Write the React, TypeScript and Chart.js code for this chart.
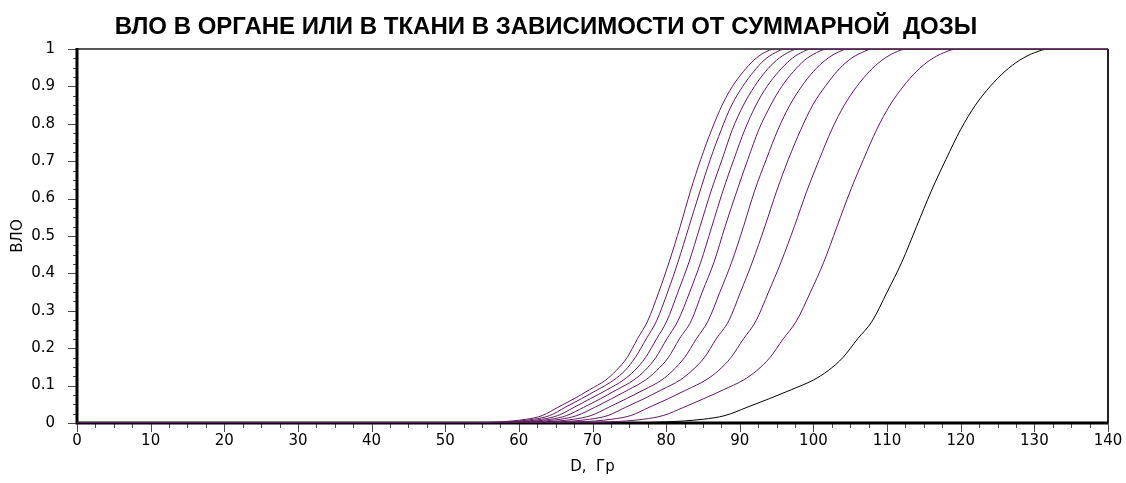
import React, { useEffect, useRef } from 'react';
import { Chart, registerables } from 'chart.js';

Chart.register(...registerables);

const CHART_TITLE = 'ВЛО В ОРГАНЕ ИЛИ В ТКАНИ В ЗАВИСИМОСТИ ОТ СУММАРНОЙ  ДОЗЫ';
const X_AXIS_TITLE = 'D,  Гр';
const Y_AXIS_TITLE = 'ВЛО';

const X_MIN = 0;
const X_MAX = 140;
const X_STEP = 10;
const X_MINOR_STEP = 2.5;
const Y_MIN = 0;
const Y_MAX = 1;
const Y_STEP = 0.1;
const Y_MINOR_STEP = 0.025;

// ВЛО levels shared by every curve
const VLO_LEVELS = [0, 0.003, 0.01, 0.02, 0.042, 0.065, 0.089, 0.115, 0.14, 0.175, 0.225, 0.273, 0.35, 0.43, 0.525, 0.62, 0.705, 0.785, 0.85, 0.9, 0.94, 0.97, 0.99, 1.0];

// Total dose (Гр) at which each curve reaches the matching ВЛО level
const DOSE_CURVE_1 = [50.3, 57.4, 61.0, 63.2, 65.3, 67.5, 69.6, 71.8, 73.2, 74.7, 76.1, 77.5, 79.0, 80.4, 81.9, 83.3, 84.7, 86.2, 87.6, 89.0, 90.5, 91.9, 93.3, 94.8];
const DOSE_CURVE_2 = [51.0, 58.3, 62.0, 64.2, 66.3, 68.5, 70.7, 72.9, 74.4, 75.8, 77.3, 78.7, 80.2, 81.6, 83.1, 84.6, 86.0, 87.5, 88.9, 90.4, 91.9, 93.3, 94.8, 96.2];
const DOSE_CURVE_3 = [51.9, 59.4, 63.1, 65.3, 67.5, 69.7, 72.0, 74.2, 75.7, 77.2, 78.7, 80.1, 81.6, 83.1, 84.6, 86.1, 87.6, 89.0, 90.5, 92.0, 93.5, 95.0, 96.5, 97.9];
const DOSE_CURVE_4 = [52.9, 60.5, 64.3, 66.5, 68.8, 71.1, 73.3, 75.6, 77.1, 78.6, 80.1, 81.6, 83.2, 84.7, 86.2, 87.7, 89.2, 90.7, 92.2, 93.7, 95.3, 96.8, 98.3, 99.8];
const DOSE_CURVE_5 = [54.0, 61.8, 65.6, 67.9, 70.3, 72.6, 74.9, 77.2, 78.7, 80.3, 81.8, 83.4, 84.9, 86.5, 88.0, 89.6, 91.1, 92.6, 94.2, 95.7, 97.3, 98.8, 100.4, 101.9];
const DOSE_CURVE_6 = [55.5, 63.5, 67.4, 69.8, 72.2, 74.6, 77.0, 79.4, 80.9, 82.5, 84.1, 85.7, 87.3, 88.9, 90.5, 92.0, 93.6, 95.2, 96.8, 98.4, 100.0, 101.6, 103.2, 104.7];
const DOSE_CURVE_7 = [57.3, 65.5, 69.6, 72.1, 74.5, 77.0, 79.4, 81.9, 83.5, 85.2, 86.8, 88.5, 90.1, 91.7, 93.4, 95.0, 96.6, 98.3, 99.9, 101.6, 103.2, 104.8, 106.5, 108.1];
const DOSE_CURVE_8 = [59.8, 68.3, 72.6, 75.2, 77.7, 80.3, 82.8, 85.4, 87.1, 88.8, 90.5, 92.2, 93.9, 95.6, 97.4, 99.1, 100.8, 102.5, 104.2, 105.9, 107.6, 109.3, 111.0, 112.7];
const DOSE_CURVE_9 = [63.4, 72.4, 76.9, 79.6, 82.4, 85.1, 87.8, 90.5, 92.3, 94.1, 95.9, 97.7, 99.6, 101.4, 103.2, 105.0, 106.8, 108.6, 110.4, 112.2, 114.0, 115.8, 117.7, 119.5];
const DOSE_CURVE_10 = [70, 80, 85, 88, 91, 94, 97, 100, 102, 104, 106, 108, 110, 112, 114, 116, 118, 120, 122, 124, 126, 128, 130, 132];

const CURVES = [
  DOSE_CURVE_1, DOSE_CURVE_2, DOSE_CURVE_3, DOSE_CURVE_4, DOSE_CURVE_5,
  DOSE_CURVE_6, DOSE_CURVE_7, DOSE_CURVE_8, DOSE_CURVE_9, DOSE_CURVE_10,
];

const PURPLE = '#5e1a60';
const CURVE_COLORS = [PURPLE, PURPLE, PURPLE, PURPLE, PURPLE, PURPLE, PURPLE, PURPLE, PURPLE, '#000000'];

const TICK_FONT = { family: '"DejaVu Sans", Arial, sans-serif', size: 15 };

// Axis frame with major and minor tick marks, drawn under the curves
const framePlugin = {
  id: 'axisFrame',
  beforeDatasetsDraw(chart: any) {
    const { ctx, chartArea, scales } = chart;
    const { left, right, top, bottom } = chartArea;
    const xs = scales.x;
    const ys = scales.y;
    ctx.save();
    ctx.strokeStyle = '#4a4a4a';
    ctx.lineWidth = 1;
    const nx = Math.round((X_MAX - X_MIN) / X_MINOR_STEP);
    for (let i = 0; i <= nx; i++) {
      const v = X_MIN + i * X_MINOR_STEP;
      const major = i % Math.round(X_STEP / X_MINOR_STEP) === 0;
      const px = Math.round(xs.getPixelForValue(v)) + 0.5;
      ctx.beginPath();
      ctx.moveTo(px, bottom);
      ctx.lineTo(px, bottom + (major ? 9 : 5));
      ctx.stroke();
    }
    const ny = Math.round((Y_MAX - Y_MIN) / Y_MINOR_STEP);
    for (let i = 0; i <= ny; i++) {
      const v = Y_MIN + i * Y_MINOR_STEP;
      const major = i % Math.round(Y_STEP / Y_MINOR_STEP) === 0;
      const py = Math.round(ys.getPixelForValue(v)) + 0.5;
      ctx.beginPath();
      ctx.moveTo(left, py);
      ctx.lineTo(left - (major ? 9 : 4), py);
      ctx.stroke();
    }
    // top and right borders
    ctx.strokeStyle = '#555555';
    ctx.lineWidth = 2;
    ctx.beginPath();
    ctx.moveTo(left, top);
    ctx.lineTo(right, top);
    ctx.stroke();
    ctx.strokeStyle = '#222222';
    ctx.beginPath();
    ctx.moveTo(right, top);
    ctx.lineTo(right, bottom);
    ctx.stroke();
    // left and bottom axes
    ctx.strokeStyle = '#000000';
    ctx.lineWidth = 3;
    ctx.beginPath();
    ctx.moveTo(left, top - 1);
    ctx.lineTo(left, bottom);
    ctx.lineTo(right, bottom);
    ctx.stroke();
    ctx.restore();
  },
};

// Chart heading
const headingPlugin = {
  id: 'heading',
  afterDraw(chart: any) {
    const { ctx } = chart;
    ctx.save();
    ctx.font = 'bold 24px "Liberation Sans", Arial, sans-serif';
    ctx.fillStyle = '#000000';
    ctx.textAlign = 'center';
    ctx.textBaseline = 'alphabetic';
    ctx.fillText(CHART_TITLE, 546, 33.5);
    ctx.restore();
  },
};

const HIDDEN_GRID = {
  display: true,
  drawOnChartArea: false,
  drawTicks: true,
  tickLength: 8,
  tickColor: 'rgba(0,0,0,0)',
  color: 'rgba(0,0,0,0)',
};

export default function App() {
  const canvasRef = useRef<HTMLCanvasElement | null>(null);

  useEffect(() => {
    const canvas = canvasRef.current;
    if (!canvas) return;
    const datasets = CURVES.map((doses, idx) => ({
      label: `curve ${idx + 1}`,
      data: [
        { x: X_MIN, y: Y_MIN },
        ...doses.map((d, i) => ({ x: d, y: VLO_LEVELS[i] })),
        { x: X_MAX, y: Y_MAX },
      ],
      borderColor: CURVE_COLORS[idx],
      borderWidth: 1,
      pointRadius: 0,
      fill: false,
      cubicInterpolationMode: 'monotone' as const,
    }));

    const chart = new Chart(canvas, {
      type: 'line',
      data: { datasets },
      plugins: [framePlugin, headingPlugin],
      options: {
        animation: false,
        responsive: false,
        layout: { padding: { top: 49, right: 18, bottom: 0, left: 0 } },
        plugins: {
          legend: { display: false },
          tooltip: { enabled: false },
          title: { display: false },
        },
        scales: {
          x: {
            type: 'linear',
            min: X_MIN,
            max: X_MAX,
            border: { display: false },
            grid: HIDDEN_GRID,
            ticks: { stepSize: X_STEP, color: '#000', font: TICK_FONT, padding: 1, maxRotation: 0 },
            title: { display: true, text: X_AXIS_TITLE, color: '#000', font: TICK_FONT, padding: { top: 0, bottom: 7 } },
            afterFit(scale: any) {
              scale.height = 60;
            },
          },
          y: {
            type: 'linear',
            min: Y_MIN,
            max: Y_MAX,
            border: { display: false },
            grid: { display: false },
            ticks: {
              stepSize: Y_STEP,
              color: '#000',
              font: TICK_FONT,
              padding: 14,
              callback: (value: any) => String(Math.round(Number(value) * 10) / 10),
            },
            title: { display: true, text: Y_AXIS_TITLE, color: '#000', font: TICK_FONT, padding: { top: 9, bottom: 0 } },
            afterFit(scale: any) {
              scale.width = 77;
            },
          },
        },
      },
    });
    return () => chart.destroy();
  }, []);

  return (
    <div style={{ position: 'absolute', left: 0, top: 0, width: 1126, height: 483, background: '#ffffff' }}>
      <canvas ref={canvasRef} width={1126} height={483} style={{ display: 'block' }} />
    </div>
  );
}
